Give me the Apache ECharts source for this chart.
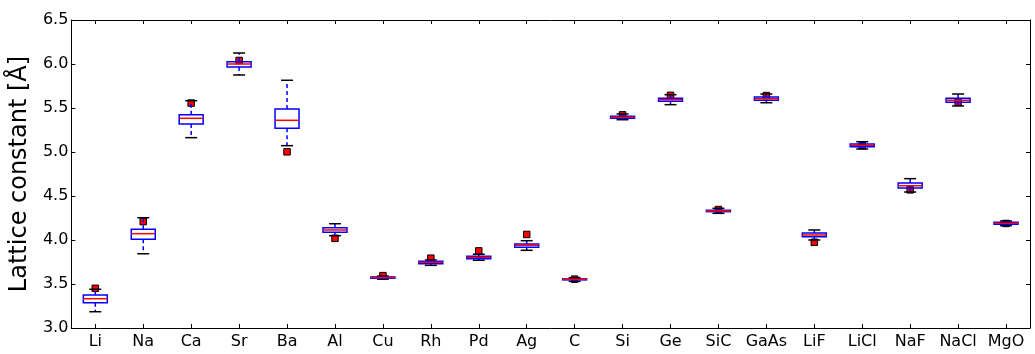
<!DOCTYPE html>
<html>
<head>
<meta charset="utf-8">
<script src="https://cdn.jsdelivr.net/npm/echarts@6/dist/echarts.min.js"></script>
<style>
html,body{margin:0;padding:0;background:#fff;}
#chart{width:1035px;height:354px;}
</style>
</head>
<body>
<div id="chart"></div>
<script>
const categories = ['Li','Na','Ca','Sr','Ba','Al','Cu','Rh','Pd','Ag','C','Si','Ge','SiC','GaAs','LiF','LiCl','NaF','NaCl','MgO'];
const whiskerLow  = [3.185,3.844,5.163,5.875,5.072,4.049,3.555,3.712,3.770,3.883,3.530,5.367,5.538,4.303,5.560,4.000,5.034,4.545,5.523,4.163];
const quartile1   = [3.288,4.008,5.318,5.966,5.270,4.087,3.565,3.731,3.788,3.917,3.547,5.383,5.576,4.322,5.587,4.038,5.060,4.591,5.565,4.178];
const medians     = [3.333,4.072,5.383,6.000,5.360,4.114,3.572,3.747,3.803,3.940,3.553,5.394,5.594,4.330,5.606,4.057,5.076,4.617,5.588,4.190];
const quartile3   = [3.375,4.122,5.424,6.026,5.489,4.140,3.580,3.758,3.815,3.955,3.558,5.406,5.610,4.338,5.625,4.080,5.091,4.648,5.610,4.201];
const whiskerHigh = [3.440,4.253,5.583,6.125,5.815,4.185,3.590,3.773,3.838,3.992,3.572,5.432,5.651,4.360,5.659,4.114,5.117,4.697,5.659,4.216];
const experiment  = [3.451,4.209,5.556,6.040,5.002,4.019,3.595,3.793,3.876,4.063,3.555,5.422,5.644,4.346,5.641,3.974,5.072,4.570,5.565,4.188];
const yTicks = [3.0,3.5,4.0,4.5,5.0,5.5,6.0,6.5];

const boxData = categories.map((c,i)=>[i, whiskerLow[i], quartile1[i], medians[i], quartile3[i], whiskerHigh[i]]);
const exptData = categories.map((c,i)=>[i, experiment[i]]);

const FONT = 'DejaVu Sans';
const chart = echarts.init(document.getElementById('chart'), null, {renderer:'canvas'});

function renderBox(params, api){
  const x = api.value(0);
  const lo = api.coord([x, api.value(1)]);
  const q1 = api.coord([x, api.value(2)]);
  const md = api.coord([x, api.value(3)]);
  const q3 = api.coord([x, api.value(4)]);
  const hi = api.coord([x, api.value(5)]);
  const band = api.size([1,0])[0];
  const bw = band*0.5, cw = band*0.25;
  const cx = md[0];
  const blue = '#0000ff';
  return {
    type:'group',
    children:[
      {type:'line', shape:{x1:cx,y1:q3[1],x2:cx,y2:hi[1]}, style:{stroke:blue,lineWidth:1.5,lineDash:[4,3]}},
      {type:'line', shape:{x1:cx,y1:q1[1],x2:cx,y2:lo[1]}, style:{stroke:blue,lineWidth:1.5,lineDash:[4,3]}},
      {type:'line', shape:{x1:cx-cw/2,y1:hi[1],x2:cx+cw/2,y2:hi[1]}, style:{stroke:'#000',lineWidth:1.5}},
      {type:'line', shape:{x1:cx-cw/2,y1:lo[1],x2:cx+cw/2,y2:lo[1]}, style:{stroke:'#000',lineWidth:1.5}},
      {type:'rect', shape:{x:cx-bw/2,y:q3[1],width:bw,height:q1[1]-q3[1]}, style:{stroke:blue,fill:null,lineWidth:1.5}},
      {type:'line', shape:{x1:cx-bw/2,y1:md[1],x2:cx+bw/2,y2:md[1]}, style:{stroke:'#ff0000',lineWidth:1.5}}
    ]
  };
}

const option = {
  animation:false,
  backgroundColor:'#fff',
  grid:{left:70,right:5,top:20,bottom:26},
  xAxis:[
    {type:'category', data:categories, boundaryGap:true,
     axisLine:{show:true,lineStyle:{color:'#000',width:1}},
     axisTick:{show:true,inside:true,alignWithLabel:true,length:4,lineStyle:{color:'#000'}},
     axisLabel:{color:'#000',fontFamily:FONT,fontSize:16,margin:6,interval:0},
     splitLine:{show:false}},
    {type:'category', data:categories, position:'top', boundaryGap:true,
     axisLine:{show:true,lineStyle:{color:'#000',width:1}},
     axisTick:{show:true,inside:true,alignWithLabel:true,length:4,lineStyle:{color:'#000'}},
     axisLabel:{show:false}, splitLine:{show:false}}
  ],
  yAxis:[
    {type:'value', min:3.0, max:6.5, interval:0.5,
     name:'Lattice constant [Å]', nameLocation:'middle', nameGap:38,
     nameTextStyle:{color:'#000',fontFamily:FONT,fontSize:24},
     axisLine:{show:true,lineStyle:{color:'#000',width:1}},
     axisTick:{show:true,inside:true,length:4,lineStyle:{color:'#000'}},
     axisLabel:{color:'#000',fontFamily:FONT,fontSize:16,margin:3,
       formatter:(v)=>{const t=yTicks.find(y=>Math.abs(y-v)<1e-9);return t===undefined?'':t.toFixed(1);}},
     splitLine:{show:false}},
    {type:'value', min:3.0, max:6.5, interval:0.5, position:'right',
     axisLine:{show:true,lineStyle:{color:'#000',width:1}},
     axisTick:{show:true,inside:true,length:4,lineStyle:{color:'#000'}},
     axisLabel:{show:false}, splitLine:{show:false}}
  ],
  series:[
    {type:'scatter', data:exptData, symbol:'rect', symbolSize:6.5, z:2,
     itemStyle:{color:'#ff0000',borderColor:'#000',borderWidth:1,opacity:1}},
    {type:'custom', data:boxData, renderItem:renderBox, z:3,
     encode:{x:0,y:[1,2,3,4,5]}}
  ]
};
chart.setOption(option);
</script>
</body>
</html>
